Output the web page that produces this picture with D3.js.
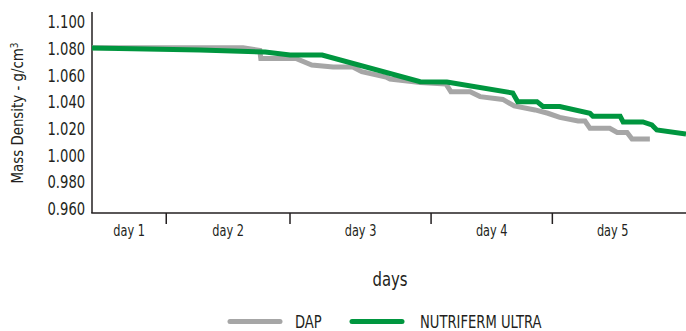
<!DOCTYPE html>
<html><head><meta charset="utf-8">
<script src="https://cdn.jsdelivr.net/npm/d3@7"></script>
<style>
html,body{margin:0;padding:0;background:#fff;}
svg text{font-family:"DejaVu Sans Condensed","Liberation Sans Narrow","Roboto",sans-serif;fill:#231f20;}
</style></head>
<body><svg id="c" width="686" height="331"></svg>
<script>
// time in hours
const dayLabels = ["day 1","day 2","day 3","day 4","day 5"];
const dayBounds = [15, 40, 68.5, 93];        // tick positions between days
const dayCenters = [7.5, 27.5, 54.25, 80.75, 105.2];
const yTicks = [0.96,0.98,1.00,1.02,1.04,1.06,1.08,1.10];

const dapT = [0,30.5,33.9,34.1,41.2,44.4,48.7,52.7,54.5,59.4,60.2,66.3,71.5,72.5,76.4,78.4,83,85.3,89.5,92.1,94.5,98.2,99.6,100.6,104.6,106.1,108.1,109.1,112.7];
const dapV = [1.0805,1.0805,1.0784,1.0724,1.0724,1.0675,1.066,1.066,1.0625,1.0585,1.057,1.0544,1.0533,1.0475,1.0475,1.0438,1.0417,1.0368,1.0338,1.0313,1.0282,1.0255,1.0255,1.020,1.020,1.0169,1.0169,1.012,1.012];

const nutT = [0,21.8,35,40,46.5,66.3,71.7,85,86,89.9,91.1,94.5,100.6,101.2,106.7,107.3,111.3,113.1,114.1,120];
const nutV = [1.0802,1.0787,1.0773,1.075,1.075,1.055,1.0548,1.0465,1.040,1.040,1.0364,1.0364,1.0312,1.029,1.029,1.0248,1.0248,1.0225,1.0188,1.0158];

const seriesNames = ["DAP","NUTRIFERM ULTRA"];
const colors = ["#a6a6a6","#00963f"];

const svg = d3.select("#c");
const x = d3.scaleLinear().domain([0,120]).range([92,686]);
const y = d3.scaleLinear().domain([0.96,1.10]).range([208.3,21.7]);
const yTop = y.invert(12), yBot = y.invert(213);

// narrow text helper
function ntext(parent, tx, ty, str, size, sx, anchor, rot){
  const g = parent.append("g").attr("transform",`translate(${tx},${ty})${rot?` rotate(${rot})`:""} scale(${sx},1)`);
  return g.append("text").attr("text-anchor",anchor||"start").style("font-size",size+"px").text(str);
}

// y axis
const yAxis = d3.axisLeft(y).tickValues(yTicks).tickSize(0).tickPadding(7).tickFormat(d3.format(".3f"));
const gy = svg.append("g").attr("transform","translate(92,0)").call(yAxis);
gy.select(".domain").remove();
gy.selectAll("text").style("font-size","17px").attr("dy","0.36em").attr("x",-8)
  .attr("transform","scale(0.86,1)");
svg.append("line").attr("x1",x(0)).attr("x2",x(0)).attr("y1",y(yTop)).attr("y2",y(yBot)).attr("stroke","#231f20").attr("stroke-width",1.5);

// x axis
svg.append("line").attr("x1",x(0)-0.75).attr("x2",686).attr("y1",y(yBot)).attr("y2",y(yBot)).attr("stroke","#231f20").attr("stroke-width",1.5);
const gx = svg.append("g").attr("transform",`translate(0,${y(yBot)})`);
gx.selectAll("line.tk").data(dayBounds).join("line").attr("class","tk")
  .attr("x1",d=>x(d)).attr("x2",d=>x(d)).attr("y1",0).attr("y2",11).attr("stroke","#231f20").attr("stroke-width",1.5);
dayLabels.forEach((d,i)=>ntext(gx, x(dayCenters[i]), 22.5, d, 15, 0.84, "middle"));

// titles
ntext(svg, 390, 286, "days", 19, 0.87, "middle");
const yt = ntext(svg, 23, 113, "", 16.5, 0.9, "middle", -90);
yt.append("tspan").text("Mass Density - g/cm");
yt.append("tspan").attr("dy","-0.45em").style("font-size","11px").text("3");

// lines
const line = d3.line().x(d=>x(d[0])).y(d=>y(d[1]));
const data = [d3.zip(dapT,dapV), d3.zip(nutT,nutV)];
data.forEach((d,i)=>{
  svg.append("path").datum(d).attr("d",line).attr("fill","none").attr("stroke",colors[i])
    .attr("stroke-width",5).attr("stroke-linejoin","miter");
});

// legend
const leg = [{x1:230,x2:280,tx:295},{x1:352,x2:402,tx:420}];
leg.forEach((l,i)=>{
  svg.append("line").attr("x1",l.x1).attr("x2",l.x2).attr("y1",321.5).attr("y2",321.5)
    .attr("stroke",colors[i]).attr("stroke-width",5).attr("stroke-linecap","round");
  ntext(svg, l.tx, 321.5, seriesNames[i], 17, 0.86, "start").attr("dy","0.36em");
});
</script></body></html>
